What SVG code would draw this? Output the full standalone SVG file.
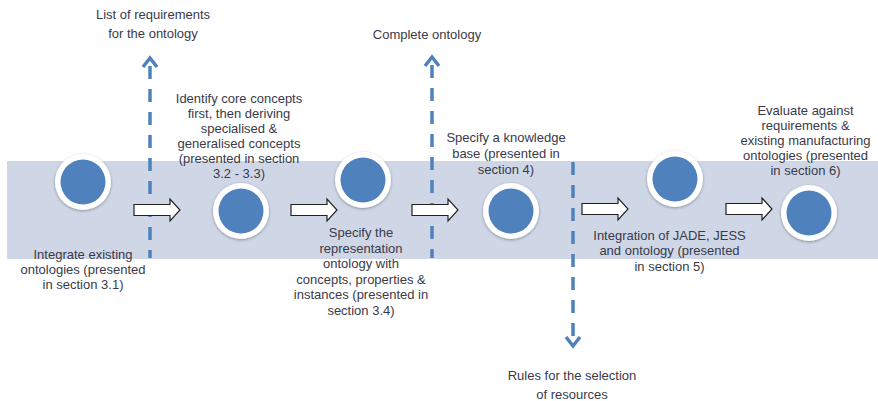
<svg xmlns="http://www.w3.org/2000/svg" width="878" height="401" viewBox="0 0 878 401">
<defs>
<style>
text{font-family:"Liberation Sans",Arial,sans-serif;font-size:13px;fill:#3a3a4a;text-anchor:middle}
.ring{fill:#fff;filter:url(#sh)}
.dot{fill:#4F81BD}
.blk{fill:#fff;stroke:#222;stroke-width:1.2;stroke-linejoin:miter}
.dash{stroke:#4F81BD;stroke-width:3.5;stroke-dasharray:13 10;fill:none}
.chev{stroke:#4F81BD;stroke-width:3.5;fill:none;stroke-linecap:butt;stroke-linejoin:miter}
</style>
<filter id="sh" x="-30%" y="-30%" width="160%" height="160%">
<feGaussianBlur in="SourceAlpha" stdDeviation="1.5"/>
<feOffset dx="0" dy="1" result="b"/>
<feFlood flood-color="#000" flood-opacity="0.35"/>
<feComposite in2="b" operator="in"/>
<feMerge><feMergeNode/><feMergeNode in="SourceGraphic"/></feMerge>
</filter>
<path id="blk" d="M0,-5.5 H36 V-11 L46,0 L36,11 V5.5 H0 Z"/>
</defs>
<rect x="7" y="161" width="871" height="98" fill="#CFD7E7"/>

<g id="connectors">
<path class="dash" d="M150,66 V258"/>
<path class="chev" d="M143,67 L150,58 L157,67"/>
<path class="dash" d="M432,65 V258"/>
<path class="chev" d="M425,66 L432,57 L439,66"/>
<path class="dash" d="M573,162 V336"/>
<path class="chev" d="M566,337 L573,346 L580,337"/>
<use href="#blk" class="blk" x="134" y="210"/>
<use href="#blk" class="blk" x="291" y="210"/>
<use href="#blk" class="blk" x="412" y="210"/>
<use href="#blk" class="blk" x="582" y="209"/>
<use href="#blk" class="blk" x="726" y="209"/>
</g>

<g id="out1">
<text x="153" y="19">List of requirements</text>
<text x="153" y="38">for the ontology</text>
</g>
<g id="out2">
<text x="427" y="39">Complete ontology</text>
</g>
<g id="out3">
<text x="572" y="380">Rules for the selection</text>
<text x="572" y="399">of resources</text>
</g>

<g id="step1">
<circle class="ring" cx="83" cy="182" r="28"/>
<circle class="dot" cx="83" cy="182" r="22.5"/>
<text x="83" y="259">Integrate existing</text>
<text x="83" y="274">ontologies (presented</text>
<text x="83" y="289">in section 3.1)</text>
</g>
<g id="step2">
<circle class="ring" cx="241" cy="211" r="28"/>
<circle class="dot" cx="241" cy="211" r="22.5"/>
<text x="239" y="103">Identify core concepts</text>
<text x="239" y="118">first, then deriving</text>
<text x="239" y="133">specialised &amp;</text>
<text x="239" y="148">generalised concepts</text>
<text x="239" y="163">(presented in section</text>
<text x="239" y="178">3.2 - 3.3)</text>
</g>
<g id="step3">
<circle class="ring" cx="363" cy="180" r="28"/>
<circle class="dot" cx="363" cy="180" r="22.5"/>
<text x="361" y="237">Specify the</text>
<text x="361" y="252.5">representation</text>
<text x="361" y="268">ontology with</text>
<text x="361" y="283.5">concepts, properties &amp;</text>
<text x="361" y="299">instances (presented in</text>
<text x="361" y="314.5">section 3.4)</text>
</g>
<g id="step4">
<circle class="ring" cx="511" cy="211" r="28"/>
<circle class="dot" cx="511" cy="211" r="22.5"/>
<text x="506" y="141.5">Specify a knowledge</text>
<text x="506" y="157.5">base (presented in</text>
<text x="506" y="173.5">section 4)</text>
</g>
<g id="step5">
<circle class="ring" cx="675" cy="179" r="28"/>
<circle class="dot" cx="675" cy="179" r="22.5"/>
<text x="669.5" y="239.5">Integration of JADE, JESS</text>
<text x="669.5" y="255">and ontology (presented</text>
<text x="669.5" y="270.5">in section 5)</text>
</g>
<g id="step6">
<circle class="ring" cx="809" cy="213" r="28"/>
<circle class="dot" cx="809" cy="213" r="22.5"/>
<text x="805.5" y="114.5">Evaluate against</text>
<text x="805.5" y="129.5">requirements &amp;</text>
<text x="805.5" y="144.5">existing manufacturing</text>
<text x="805.5" y="159.5">ontologies (presented</text>
<text x="805.5" y="174.5">in section 6)</text>
</g>
</svg>
